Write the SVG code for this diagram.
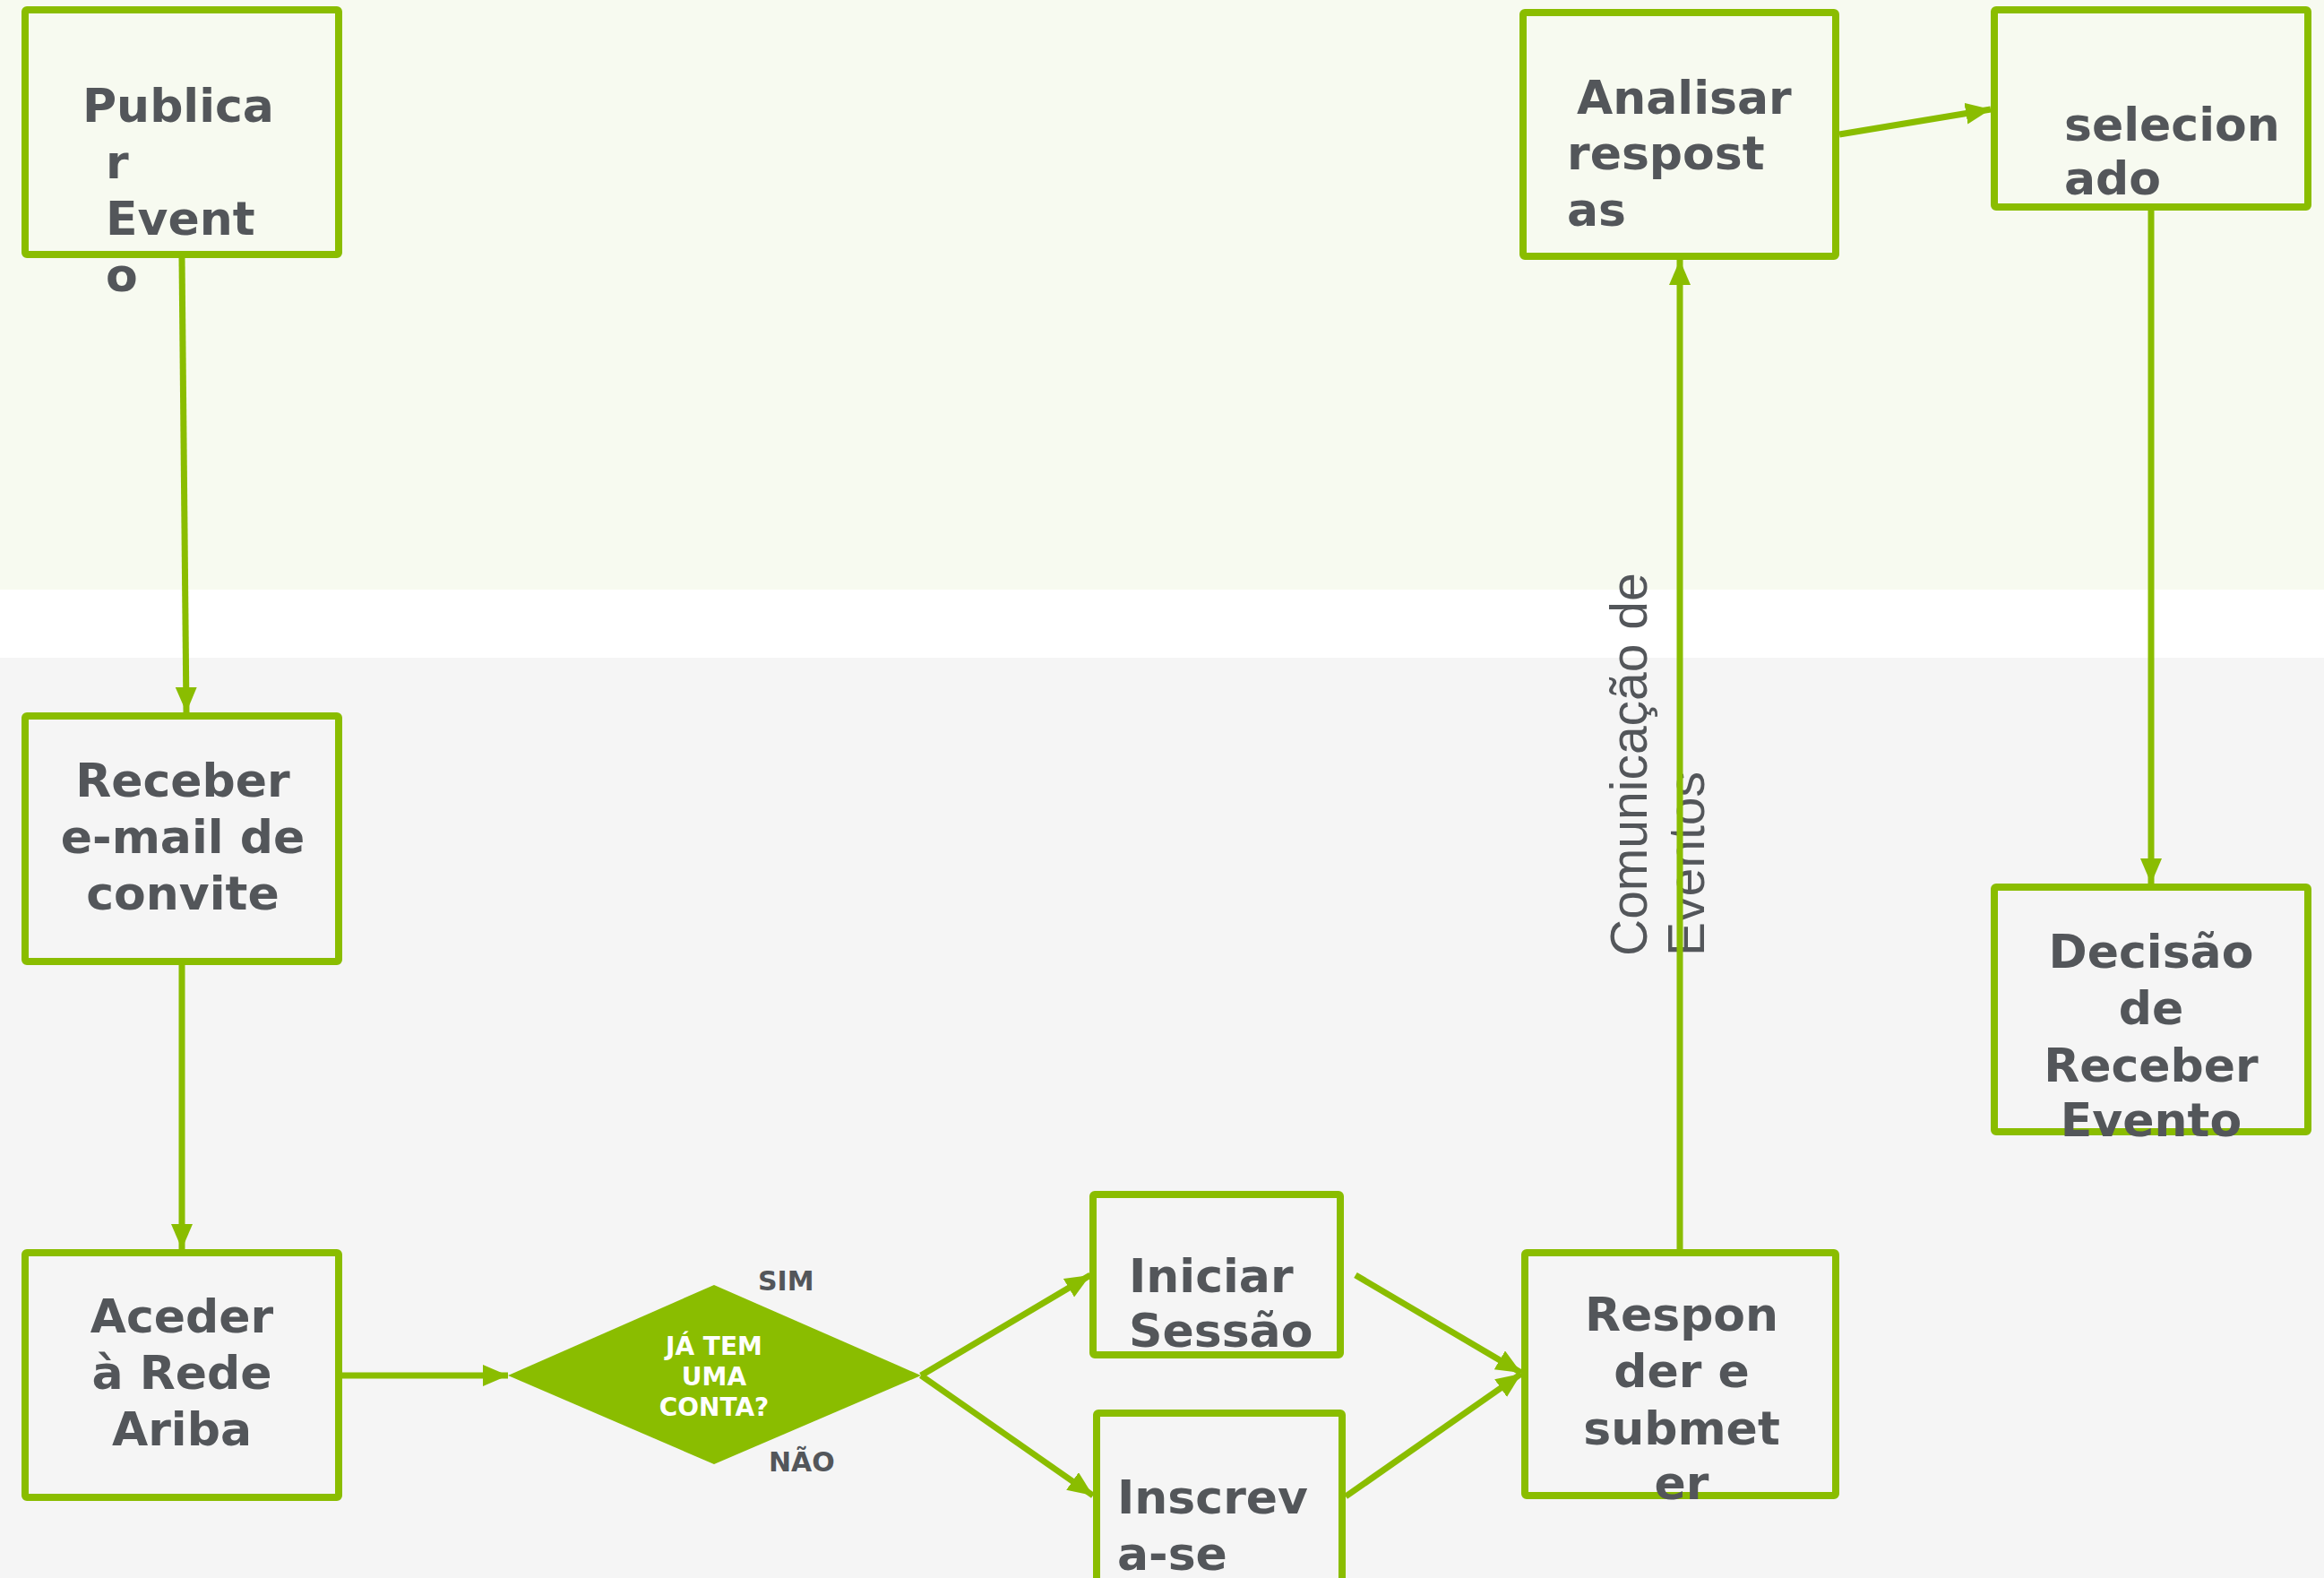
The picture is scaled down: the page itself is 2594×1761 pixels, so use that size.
<svg xmlns="http://www.w3.org/2000/svg" width="2594" height="1761" viewBox="0 0 2594 1761">
<defs>
<style>
.box{fill:none;stroke:#8abd00;stroke-width:8;stroke-linejoin:round}
.lbl{font-family:"DejaVu Sans",Verdana,sans-serif;font-weight:bold;font-size:52px;fill:#53565a}
.mid{text-anchor:middle}
.dia{font-family:"DejaVu Sans",Verdana,sans-serif;font-weight:bold;font-size:28px;fill:#ffffff;text-anchor:middle}
.yn{font-family:"DejaVu Sans",Verdana,sans-serif;font-weight:bold;font-size:30px;fill:#53565a}
.con{fill:none;stroke:#8abd00;stroke-width:7}
.lane{font-family:"Liberation Sans",Arial,sans-serif;font-size:57px;fill:#53565a}
</style>
<marker id="ah" markerUnits="userSpaceOnUse" markerWidth="30" markerHeight="26" refX="28" refY="12" orient="auto">
<path d="M0,0 L28,12 L0,24 z" fill="#8abd00"/>
</marker>
</defs>
<g id="background">
<rect x="0" y="0" width="2594" height="658" fill="#f7faf0"/>
<rect x="0" y="658" width="2594" height="76" fill="#ffffff"/>
<rect x="0" y="734" width="2594" height="1027" fill="#f5f5f5"/>
</g>
<g id="lane-label">
<text class="lane" transform="translate(1838,1067) rotate(-90)"><tspan x="0" y="0">Comunicação de</tspan><tspan x="0" y="64">Eventos</tspan></text>
</g>
<g id="connectors">
<line class="con" x1="203" y1="288" x2="208" y2="795" marker-end="url(#ah)"/>
<line class="con" x1="203" y1="1077" x2="203" y2="1394" marker-end="url(#ah)"/>
<line class="con" x1="382" y1="1535" x2="567" y2="1535" marker-end="url(#ah)"/>
<line class="con" x1="1028" y1="1535" x2="1217" y2="1423" marker-end="url(#ah)"/>
<line class="con" x1="1028" y1="1535" x2="1220" y2="1669" marker-end="url(#ah)"/>
<line class="con" x1="1513" y1="1423" x2="1698" y2="1532" marker-end="url(#ah)"/>
<line class="con" x1="1502" y1="1670" x2="1698" y2="1533" marker-end="url(#ah)"/>
<line class="con" x1="1875" y1="1394" x2="1875" y2="290" marker-end="url(#ah)"/>
<line class="con" x1="2053" y1="150" x2="2222" y2="122" marker-end="url(#ah)"/>
<line class="con" x1="2401" y1="235" x2="2401" y2="986" marker-end="url(#ah)"/>
</g>
<g id="node-publicar">
<rect class="box" x="28" y="11" width="350" height="273" rx="2"/>
<text class="lbl"><tspan x="92" y="136">Publica</tspan><tspan x="118" y="199">r</tspan><tspan x="118" y="262">Event</tspan><tspan x="118" y="325">o</tspan></text>
</g>
<g id="node-analisar">
<rect class="box" x="1700" y="14" width="349" height="272" rx="2"/>
<text class="lbl"><tspan x="1760" y="127">Analisar</tspan><tspan x="1749" y="189">respost</tspan><tspan x="1749" y="252">as</tspan></text>
</g>
<g id="node-selecionado">
<rect class="box" x="2226" y="11" width="350" height="220" rx="2"/>
<text class="lbl"><tspan x="2304" y="157">selecion</tspan><tspan x="2304" y="217">ado</tspan></text>
</g>
<g id="node-receber">
<rect class="box" x="28" y="799" width="350" height="274" rx="2"/>
<text class="lbl mid"><tspan x="204" y="889">Receber</tspan><tspan x="204" y="952">e-mail de</tspan><tspan x="204" y="1015">convite</tspan></text>
</g>
<g id="node-aceder">
<rect class="box" x="28" y="1398" width="350" height="273" rx="2"/>
<text class="lbl mid"><tspan x="203" y="1487">Aceder</tspan><tspan x="203" y="1550">à Rede</tspan><tspan x="203" y="1613">Ariba</tspan></text>
</g>
<g id="node-decisao-conta">
<polygon points="567,1535 797,1434 1028,1535 797,1634" fill="#8abd00"/>
<text class="dia"><tspan x="797" y="1512">JÁ TEM</tspan><tspan x="797" y="1546">UMA</tspan><tspan x="797" y="1580">CONTA?</tspan></text>
<text class="yn" x="846" y="1440">SIM</text>
<text class="yn" x="858" y="1642">NÃO</text>
</g>
<g id="node-iniciar">
<rect class="box" x="1220" y="1333" width="276" height="179" rx="2"/>
<text class="lbl"><tspan x="1260" y="1442">Iniciar</tspan><tspan x="1260" y="1503">Sessão</tspan></text>
</g>
<g id="node-inscreva">
<rect class="box" x="1224" y="1577" width="274" height="250" rx="2"/>
<text class="lbl"><tspan x="1247" y="1689">Inscrev</tspan><tspan x="1247" y="1752">a-se</tspan></text>
</g>
<g id="node-responder">
<rect class="box" x="1702" y="1398" width="347" height="271" rx="2"/>
<text class="lbl mid"><tspan x="1877" y="1485">Respon</tspan><tspan x="1877" y="1548">der e</tspan><tspan x="1877" y="1612">submet</tspan><tspan x="1877" y="1673">er</tspan></text>
</g>
<g id="node-decisao-evento">
<rect class="box" x="2226" y="990" width="350" height="273" rx="2"/>
<text class="lbl mid"><tspan x="2401" y="1080">Decisão</tspan><tspan x="2401" y="1143">de</tspan><tspan x="2401" y="1207">Receber</tspan><tspan x="2401" y="1268">Evento</tspan></text>
</g>
</svg>
